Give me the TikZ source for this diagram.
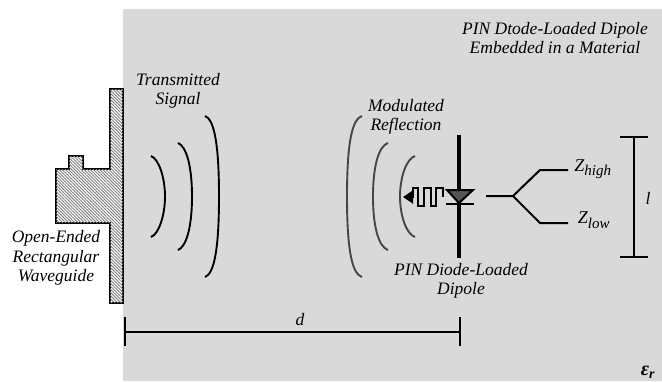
\documentclass[tikz,border=0pt]{standalone}
\usepackage{fontspec}
\setmainfont{Liberation Serif}
\usepackage{xcolor}
\usepackage{tikz}
\usetikzlibrary{patterns.meta,arrows.meta}
\definecolor{material}{RGB}{217, 217, 217}
\definecolor{wavegray}{RGB}{70, 70, 70}
\definecolor{diodegray}{RGB}{85, 85, 85}
\tikzset{
  label/.style={font=\fontsize{17.5}{19.5}\selectfont\itshape, align=center, inner sep=0pt},
  wavefront/.style={line width=1.9pt},
  barline/.style={line width=2pt},
}

\begin{document}
\begin{tikzpicture}[x=1pt, y=-1pt]
      \useasboundingbox (0,0) rectangle (662,381);
      % Material block
      \fill[material] (123,9) rectangle (662,381);
      % Waveguide with flange
      \filldraw[draw=black, line width=2pt, line join=miter, fill=white,
            postaction={pattern={Lines[angle=-45,distance=2.2pt,line width=0.9pt]}, pattern color=gray}]
            (123,89) -- (110,89) -- (110,169) -- (83,169) -- (83,156) -- (69,156) -- (69,169)
            -- (56,169) -- (56,223) -- (110,223) -- (110,303) -- (123,303) -- cycle;
      % Transmitted wave fronts
      \foreach \xa/\xb/\ya/\yb in {151/165/156/237, 178/192/143/250, 205/219/116/277} {
        \draw[wavefront] (\xa,\ya) .. controls (\xb-6,\ya+3) and (\xb,\ya+22) .. (\xb,{(\ya+\yb)/2})
              .. controls (\xb,\yb-22) and (\xb-6,\yb-3) .. (\xa,\yb);
      }
      % Reflected wave fronts
      \foreach \xa/\xb/\ya/\yb in {415/400/156/237, 388/373/143/250, 362/347/116/277} {
        \draw[wavefront, draw=wavegray] (\xa,\ya) .. controls (\xb+6,\ya+3) and (\xb,\ya+22) .. (\xb,{(\ya+\yb)/2})
              .. controls (\xb,\yb-22) and (\xb+6,\yb-3) .. (\xa,\yb);
      }
      % Modulated signal
      \draw[line width=2pt, line join=miter] (443,197) -- (443,188) -- (436,188) -- (436,206) -- (431,206) -- (431,188)
            -- (424,188) -- (424,206) -- (418,206) -- (418,188) -- (413,188) -- (413,197);
      \draw[line width=2pt, -{Triangle[length=10pt,width=13pt]}] (414,197) -- (403,197);
      % Dipole and diode
      \coordinate (dipoletop) at (459,135);
      \coordinate (dipolebottom) at (459,258);
      \draw[line width=3.5pt] (dipoletop) -- (dipolebottom);
      \filldraw[draw=black, line width=2pt, fill=diodegray] (447,190) -- (473,190) -- (459,203) -- cycle;
      \draw[barline] (446,204) -- (474,204);
      % Switch to the two loads
      \node[label, font=\fontsize{18}{19}\selectfont\itshape] (zhigh) at (593,169) {Z\textsubscript{\fontsize{15}{15}\selectfont high}};
      \node[label, font=\fontsize{18}{19}\selectfont\itshape] (zlow) at (594,220) {Z\textsubscript{\fontsize{15}{15}\selectfont low}};
      \coordinate (feed) at (486,196);
      \coordinate (fork) at (513,196);
      \coordinate (high) at (540,170);
      \coordinate (low) at (540,223);
      \coordinate (highend) at (568,170);
      \coordinate (lowend) at (568,223);
      \draw[barline] (feed) -- (fork) -- (high) -- (highend);
      \draw[barline] (fork) -- (low) -- (lowend);
      % Length of dipole
      \draw[barline] (634,137) -- (634,257);
      \draw[barline] (620,137) -- (648,137);
      \draw[barline] (620,257) -- (648,257);
      \node[label] (lenl) at (648,198) {l};
      % Distance d
      \draw[barline] (125,317) -- (125,346);
      \draw[barline] (459.5,317) -- (459.5,346);
      \draw[barline] (125,332) -- (459.5,332);
      \node[label] (dist) at (300,320) {d};
      % Labels
      \node[label] (title) at (555,38) {PIN Dtode-Loaded Dipole\\Embedded in a Material};
      \node[label] (txsignal) at (178,91) {Transmitted\\Signal};
      \node[label] (reflection) at (406,117) {Modulated\\Reflection};
      \node[label] (dipole) at (461,281) {PIN Diode-Loaded\\Dipole};
      \node[label] (guide) at (56,258) {Open-Ended\\Rectangular\\Waveguide};
      \node[label, font=\fontsize{20}{20}\selectfont\bfseries\itshape] (eps) at (648,372) {ε\textsubscript{r}};
    \end{tikzpicture}
\end{document}
